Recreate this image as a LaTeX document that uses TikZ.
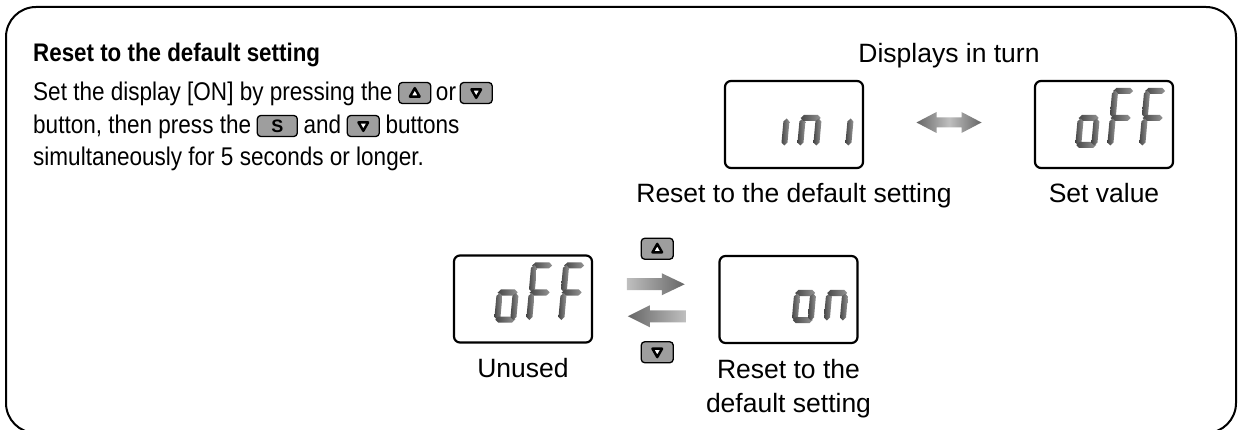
\documentclass[tikz,border=0pt]{standalone}
\usepackage{fontspec}
\setmainfont{Liberation Sans}
\newfontfamily\narrowfont{Liberation Sans}[FakeStretch=0.88]
\usetikzlibrary{arrows.meta, positioning, calc}

\tikzset{
  segfill/.style={left color=black!72, right color=black!42},
  pics/uptri/.style={code={\filldraw[fill=white, line width=2.5pt, line join=round] (0,-4.8) -- (4.8,3.6) -- (-4.8,3.6) -- cycle;}},
  pics/dntri/.style={code={\filldraw[fill=white, line width=2.5pt, line join=round] (0,4.8) -- (4.8,-3.6) -- (-4.8,-3.6) -- cycle;}}
}

\newcommand\hseg[2]{\shade[segfill] ({#1-10},#2) -- ({#1-7},{#2+3}) -- ({#1+7},{#2+3})
  -- ({#1+10},#2) -- ({#1+7},{#2-3}) -- ({#1-7},{#2-3}) -- cycle;}
\newcommand\vseg[2]{\shade[segfill] (#1,{#2-13.5}) -- ({#1+3},{#2-10.5}) -- ({#1+3},{#2+10.5})
  -- (#1,{#2+13.5}) -- ({#1-3},{#2+10.5}) -- ({#1-3},{#2-10.5}) -- cycle;}
\newcommand\lcdsega{\hseg{11}{57}}
\newcommand\lcdsegg{\hseg{11}{30}}
\newcommand\lcdsegd{\hseg{11}{3}}
\newcommand\lcdsegf{\vseg{3}{44}}
\newcommand\lcdsege{\vseg{3}{16}}
\newcommand\lcdsegb{\vseg{19}{44}}
\newcommand\lcdsegc{\vseg{19}{16}}

\newcommand\lcdchar[3]{%
  \begin{scope}[shift={($(#1.south west)+(#2,-20)$)}, xslant=0.09, yscale=-1]
    \foreach \s in {#3} {\csname lcdseg\s\endcsname}
  \end{scope}}

\begin{document}
\begin{tikzpicture}[x=1pt, y=-1pt,
    txt/.style={font=\narrowfont\fontsize{25.6}{30}\selectfont, inner sep=0, anchor=base west},
    ttl/.style={txt, font=\narrowfont\bfseries\fontsize{25.4}{30}\selectfont},
    lbl/.style={font=\fontsize{26.5}{34}\selectfont, inner sep=0, anchor=base, align=center},
    lcd/.style={draw, line width=2.2pt, rounded corners=6pt, outer sep=0,
                minimum width=138pt, minimum height=87pt},
    keybtn/.style={draw, line width=1.3pt, fill=black!38, rounded corners=3.5pt,
                   minimum width=32pt, minimum height=21pt, inner sep=0, outer sep=0},
    skey/.style={keybtn, minimum width=40pt, font=\bfseries\fontsize{18}{18}\selectfont}]
  \useasboundingbox (0,0) rectangle (1239,430);
  \clip (0,0) rectangle (1239,430);
  \fill[white] (0,0) rectangle (1239,430);
  \draw[line width=2pt, rounded corners=30pt] (6,7) rectangle (1236,433);

  \node[ttl] (title) at (33,62) {Reset to the default setting};
  \node[txt] (t1a) at (33,101) {Set the display [ON] by pressing the};
  \node[keybtn] (k1) at ($(t1a.base east)+(22,-8)$) {};
  \node[txt] (t1b) at ($(k1.east |- t1a.base)+(5,0)$) {or};
  \node[keybtn] (k2) at ($(t1b.base east)+(20,-8)$) {};
  \node[txt] (t2a) at (33,134) {button, then press the};
  \node[skey] (k3) at ($(t2a.base east)+(26,-8)$) {S};
  \node[txt] (t2b) at ($(k3.east |- t2a.base)+(6,0)$) {and};
  \node[keybtn] (k4) at ($(t2b.base east)+(22,-8)$) {};
  \node[txt] (t2c) at ($(k4.east |- t2a.base)+(6,0)$) {buttons};
  \node[txt] (t3) at (33,166) {simultaneously for 5 seconds or longer.};
  \pic at (k1) {uptri};
  \pic at (k2) {dntri};
  \pic at (k4) {dntri};

  \node[lcd] (ini) at (794,124.5) {};
  \node[lcd] (offT) at (1104,124.5) {};
  \node[lcd] (offB) at (523,299) {};
  \node[lcd] (on) at (788.5,299.5) {};
  \node[lbl] (turn) at ($(ini.north)!0.5!(offT.north)+(0,-18)$) {Displays in turn};
  \node[lbl] (iniLbl) at ($(ini.south)+(0,35)$) {Reset to the default setting};
  \node[lbl] (offTLbl) at ($(offT.south)+(0,35)$) {Set value};
  \node[lbl] (offBLbl) at ($(offB.south)+(0,35)$) {Unused};
  \node[lbl] (onLbl) at ($(on.south)+(0,69)$) {Reset to the\\default setting};

  \lcdchar{ini}{40}{c}
  \lcdchar{ini}{72}{e,g,c}
  \lcdchar{ini}{104}{c}
  \lcdchar{offT}{40}{g,e,d,c}
  \lcdchar{offT}{72}{a,f,g,e}
  \lcdchar{offT}{104}{a,f,g,e}
  \lcdchar{offB}{40}{g,e,d,c}
  \lcdchar{offB}{72}{a,f,g,e}
  \lcdchar{offB}{104}{a,f,g,e}
  \lcdchar{on}{72}{g,e,d,c}
  \lcdchar{on}{104}{e,g,c}

  \coordinate (swap) at ($(ini.east)!0.5!(offT.west)+(0,-2)$);
  \shade[left color=black!60, right color=black!60, middle color=black!25]
    ($(swap)+(-32.5,0)$) -- ++(20,-10.5) -- ++(0,5.5) -- ++(25,0) -- ++(0,-5.5)
    -- ++(20,10.5) -- ++(-20,10.5) -- ++(0,-5.5) -- ++(-25,0) -- ++(0,5.5) -- cycle;

  \coordinate (fwd) at ($(offB.east)!0.5!(on.west)$);
  \shade[left color=black!25, right color=black!60]
    ($(fwd)+(-29,-21)$) -- ++(35,0) -- ++(0,-5) -- ++(23,11) -- ++(-23,11)
    -- ++(0,-5) -- ++(-35,0) -- cycle;
  \shade[left color=black!60, right color=black!25]
    ($(fwd)+(30,11)$) -- ++(-36,0) -- ++(0,-5) -- ++(-22,11) -- ++(22,11)
    -- ++(0,-5) -- ++(36,0) -- cycle;
  \node[keybtn] (upK) at ($(fwd)+(1.5,-50.5)$) {};
  \node[keybtn] (dnK) at ($(fwd)+(1.5,53)$) {};
  \pic at (upK) {uptri};
  \pic at (dnK) {dntri};
\end{tikzpicture}
\end{document}
